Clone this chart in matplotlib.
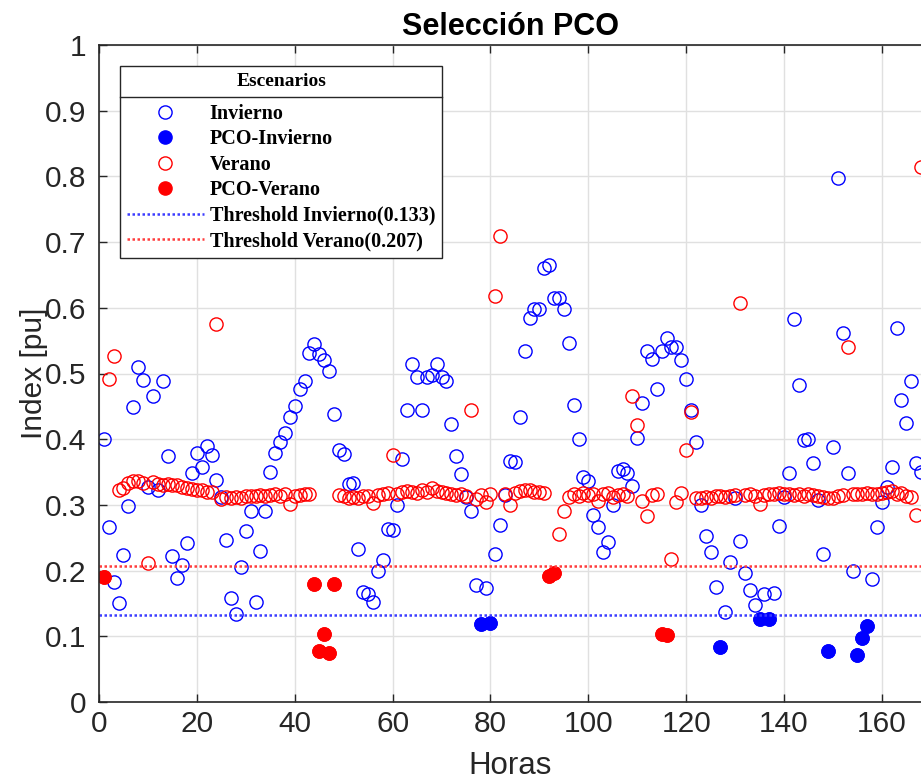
from matplotlib import pyplot as plt
from matplotlib.lines import Line2D
import numpy as np

# Hours of the week (1..168)
horas = np.arange(1, 169)

# Index values, one per hour
invierno = [
    0.400, 0.267, 0.182, 0.150, 0.223, 0.298, 0.449, 0.510, 0.490, 0.327,
    0.465, 0.323, 0.488, 0.374, 0.222, 0.189, 0.208, 0.242, 0.349, 0.379,
    0.358, 0.389, 0.376, 0.338, 0.312, 0.247, 0.159, 0.134, 0.205, 0.261,
    0.290, 0.152, 0.230, 0.290, 0.350, 0.379, 0.395, 0.409, 0.434, 0.451,
    0.477, 0.488, 0.531, 0.545, 0.530, 0.520, 0.504, 0.439, 0.383, 0.377,
    0.332, 0.333, 0.233, 0.167, 0.164, 0.152, 0.200, 0.216, 0.263, 0.262,
    0.300, 0.370, 0.444, 0.515, 0.495, 0.444, 0.495, 0.497, 0.515, 0.495,
    0.489, 0.423, 0.374, 0.347, 0.312, 0.290, 0.178, 0.118, 0.174, 0.120,
    0.225, 0.270, 0.315, 0.367, 0.366, 0.434, 0.534, 0.584, 0.598, 0.598,
    0.660, 0.665, 0.615, 0.615, 0.598, 0.547, 0.452, 0.401, 0.342, 0.337,
    0.285, 0.267, 0.228, 0.243, 0.300, 0.352, 0.355, 0.349, 0.329, 0.402,
    0.455, 0.534, 0.522, 0.476, 0.534, 0.554, 0.540, 0.541, 0.520, 0.492,
    0.445, 0.396, 0.300, 0.252, 0.228, 0.175, 0.084, 0.137, 0.213, 0.310,
    0.245, 0.197, 0.171, 0.148, 0.127, 0.165, 0.127, 0.166, 0.268, 0.312,
    0.349, 0.583, 0.483, 0.399, 0.401, 0.364, 0.308, 0.225, 0.077, 0.388,
    0.797, 0.562, 0.349, 0.200, 0.071, 0.097, 0.115, 0.187, 0.266, 0.305,
    0.328, 0.357, 0.570, 0.459, 0.424, 0.488, 0.364, 0.350,
]

verano = [
    0.190, 0.492, 0.527, 0.323, 0.326, 0.334, 0.337, 0.336, 0.334, 0.211,
    0.335, 0.332, 0.331, 0.332, 0.331, 0.330, 0.328, 0.326, 0.324, 0.322,
    0.322, 0.320, 0.319, 0.575, 0.309, 0.312, 0.311, 0.312, 0.311, 0.313,
    0.314, 0.313, 0.315, 0.314, 0.315, 0.316, 0.314, 0.316, 0.302, 0.314,
    0.315, 0.316, 0.317, 0.180, 0.077, 0.104, 0.074, 0.180, 0.315, 0.313,
    0.311, 0.312, 0.311, 0.313, 0.314, 0.303, 0.315, 0.316, 0.318, 0.376,
    0.317, 0.320, 0.321, 0.319, 0.318, 0.322, 0.320, 0.325, 0.321, 0.319,
    0.318, 0.316, 0.315, 0.317, 0.313, 0.445, 0.309, 0.315, 0.305, 0.317,
    0.618, 0.709, 0.317, 0.300, 0.318, 0.321, 0.323, 0.322, 0.320, 0.319,
    0.318, 0.192, 0.197, 0.256, 0.291, 0.312, 0.316, 0.314, 0.318, 0.315,
    0.317, 0.306, 0.316, 0.318, 0.312, 0.315, 0.317, 0.314, 0.465, 0.422,
    0.306, 0.283, 0.315, 0.316, 0.103, 0.102, 0.217, 0.304, 0.318, 0.383,
    0.442, 0.311, 0.310, 0.312, 0.311, 0.313, 0.314, 0.312, 0.314, 0.315,
    0.607, 0.315, 0.316, 0.314, 0.301, 0.315, 0.316, 0.317, 0.318, 0.316,
    0.317, 0.315, 0.316, 0.314, 0.316, 0.315, 0.313, 0.312, 0.310, 0.311,
    0.313, 0.315, 0.540, 0.316, 0.317, 0.316, 0.318, 0.317, 0.316, 0.318,
    0.320, 0.321, 0.317, 0.318, 0.314, 0.312, 0.285, 0.815,
]

# Thresholds
thr_invierno = 0.133
thr_verano = 0.207

invierno = np.array(invierno)
verano = np.array(verano)

# PCO points are the hours below each threshold
pco_inv = invierno < thr_invierno
pco_ver = verano < thr_verano

fig = plt.figure(figsize=(9.21, 7.81), dpi=100)
ax = fig.add_axes([99 / 921, 79 / 781, 822 / 921, 657 / 781])

ms = 9.5
ax.plot(horas, invierno, 'o', mfc='none', mec='b', mew=1.0, ms=ms, label='Invierno')
ax.plot(horas[pco_inv], invierno[pco_inv], 'o', color='b', mec='b', ms=ms, label='PCO-Invierno')
ax.plot(horas, verano, 'o', mfc='none', mec='r', mew=1.0, ms=ms, label='Verano')
ax.plot(horas[pco_ver], verano[pco_ver], 'o', color='r', mec='r', ms=ms, label='PCO-Verano')

# Threshold lines
ax.axhline(thr_invierno, color='#3c3cff', lw=1.8, dashes=(1, 1),
           label='Threshold Invierno(' + str(thr_invierno) + ')')
ax.axhline(thr_verano, color='#ff3c3c', lw=1.8, dashes=(1, 1),
           label='Threshold Verano(' + str(thr_verano) + ')')

# Axes
ax.set_xlim(0, 168)
ax.set_ylim(0, 1)
ax.set_xticks(range(0, 161, 20))
ax.set_yticks(np.arange(0, 1.01, 0.1))
ax.set_yticklabels(['0', '0.1', '0.2', '0.3', '0.4', '0.5', '0.6', '0.7', '0.8', '0.9', '1'])
ax.grid(True, color='#e0e0e0', lw=1)
ax.set_axisbelow(True)
ax.tick_params(direction='in', top=True, right=False, length=6, width=1,
               colors='#262626', labelsize=21.5, labelcolor='#262626')
ax.tick_params(axis='y', pad=9)
ax.tick_params(axis='x', pad=6)
ax.spines['right'].set_visible(False)
for s in ['left', 'top', 'bottom']:
    ax.spines[s].set_color('#262626')
    ax.spines[s].set_linewidth(1.2)

# Labels and title
ax.set_xlabel('Horas', fontsize=22.5, color='#262626', family='Liberation Sans', labelpad=9)
ax.set_ylabel('Index [pu]', fontsize=21.5, color='#262626', family='Liberation Sans', labelpad=-2)
ax.set_title('Selección PCO', fontsize=22, fontweight='bold', family='Liberation Sans', pad=7)
for t in ax.get_xticklabels() + ax.get_yticklabels():
    t.set_family('Liberation Sans')

# Legend
leg = ax.legend(loc='upper left', bbox_to_anchor=(21 / 822, (702 - 66) / 657),
                borderaxespad=0, fancybox=False, framealpha=1, edgecolor='#262626',
                title='Escenarios', handlelength=3.8, handletextpad=0.3,
                labelspacing=0.27, borderpad=0.35,
                prop={'family': 'Liberation Serif', 'weight': 'bold', 'size': 14.5},
                title_fontproperties={'family': 'Liberation Serif', 'weight': 'bold', 'size': 14})
leg.get_frame().set_linewidth(1.0)
# more room between the title and the entries
leg._legend_box.sep = 10

# Line under the legend title
fig.canvas.draw()
lb = leg.get_window_extent()
tb = leg.get_title().get_window_extent()
first = leg.get_texts()[0].get_window_extent()
y_sep = (tb.y0 + first.y1) / 2
inv = fig.transFigure.inverted()
p0 = inv.transform((lb.x0, y_sep))
p1 = inv.transform((lb.x1, y_sep))
fig.add_artist(Line2D([p0[0], p1[0]], [p0[1], p1[1]], transform=fig.transFigure,
                      color='#262626', lw=1.0, zorder=10))

fig.savefig('out.png', dpi=100)
